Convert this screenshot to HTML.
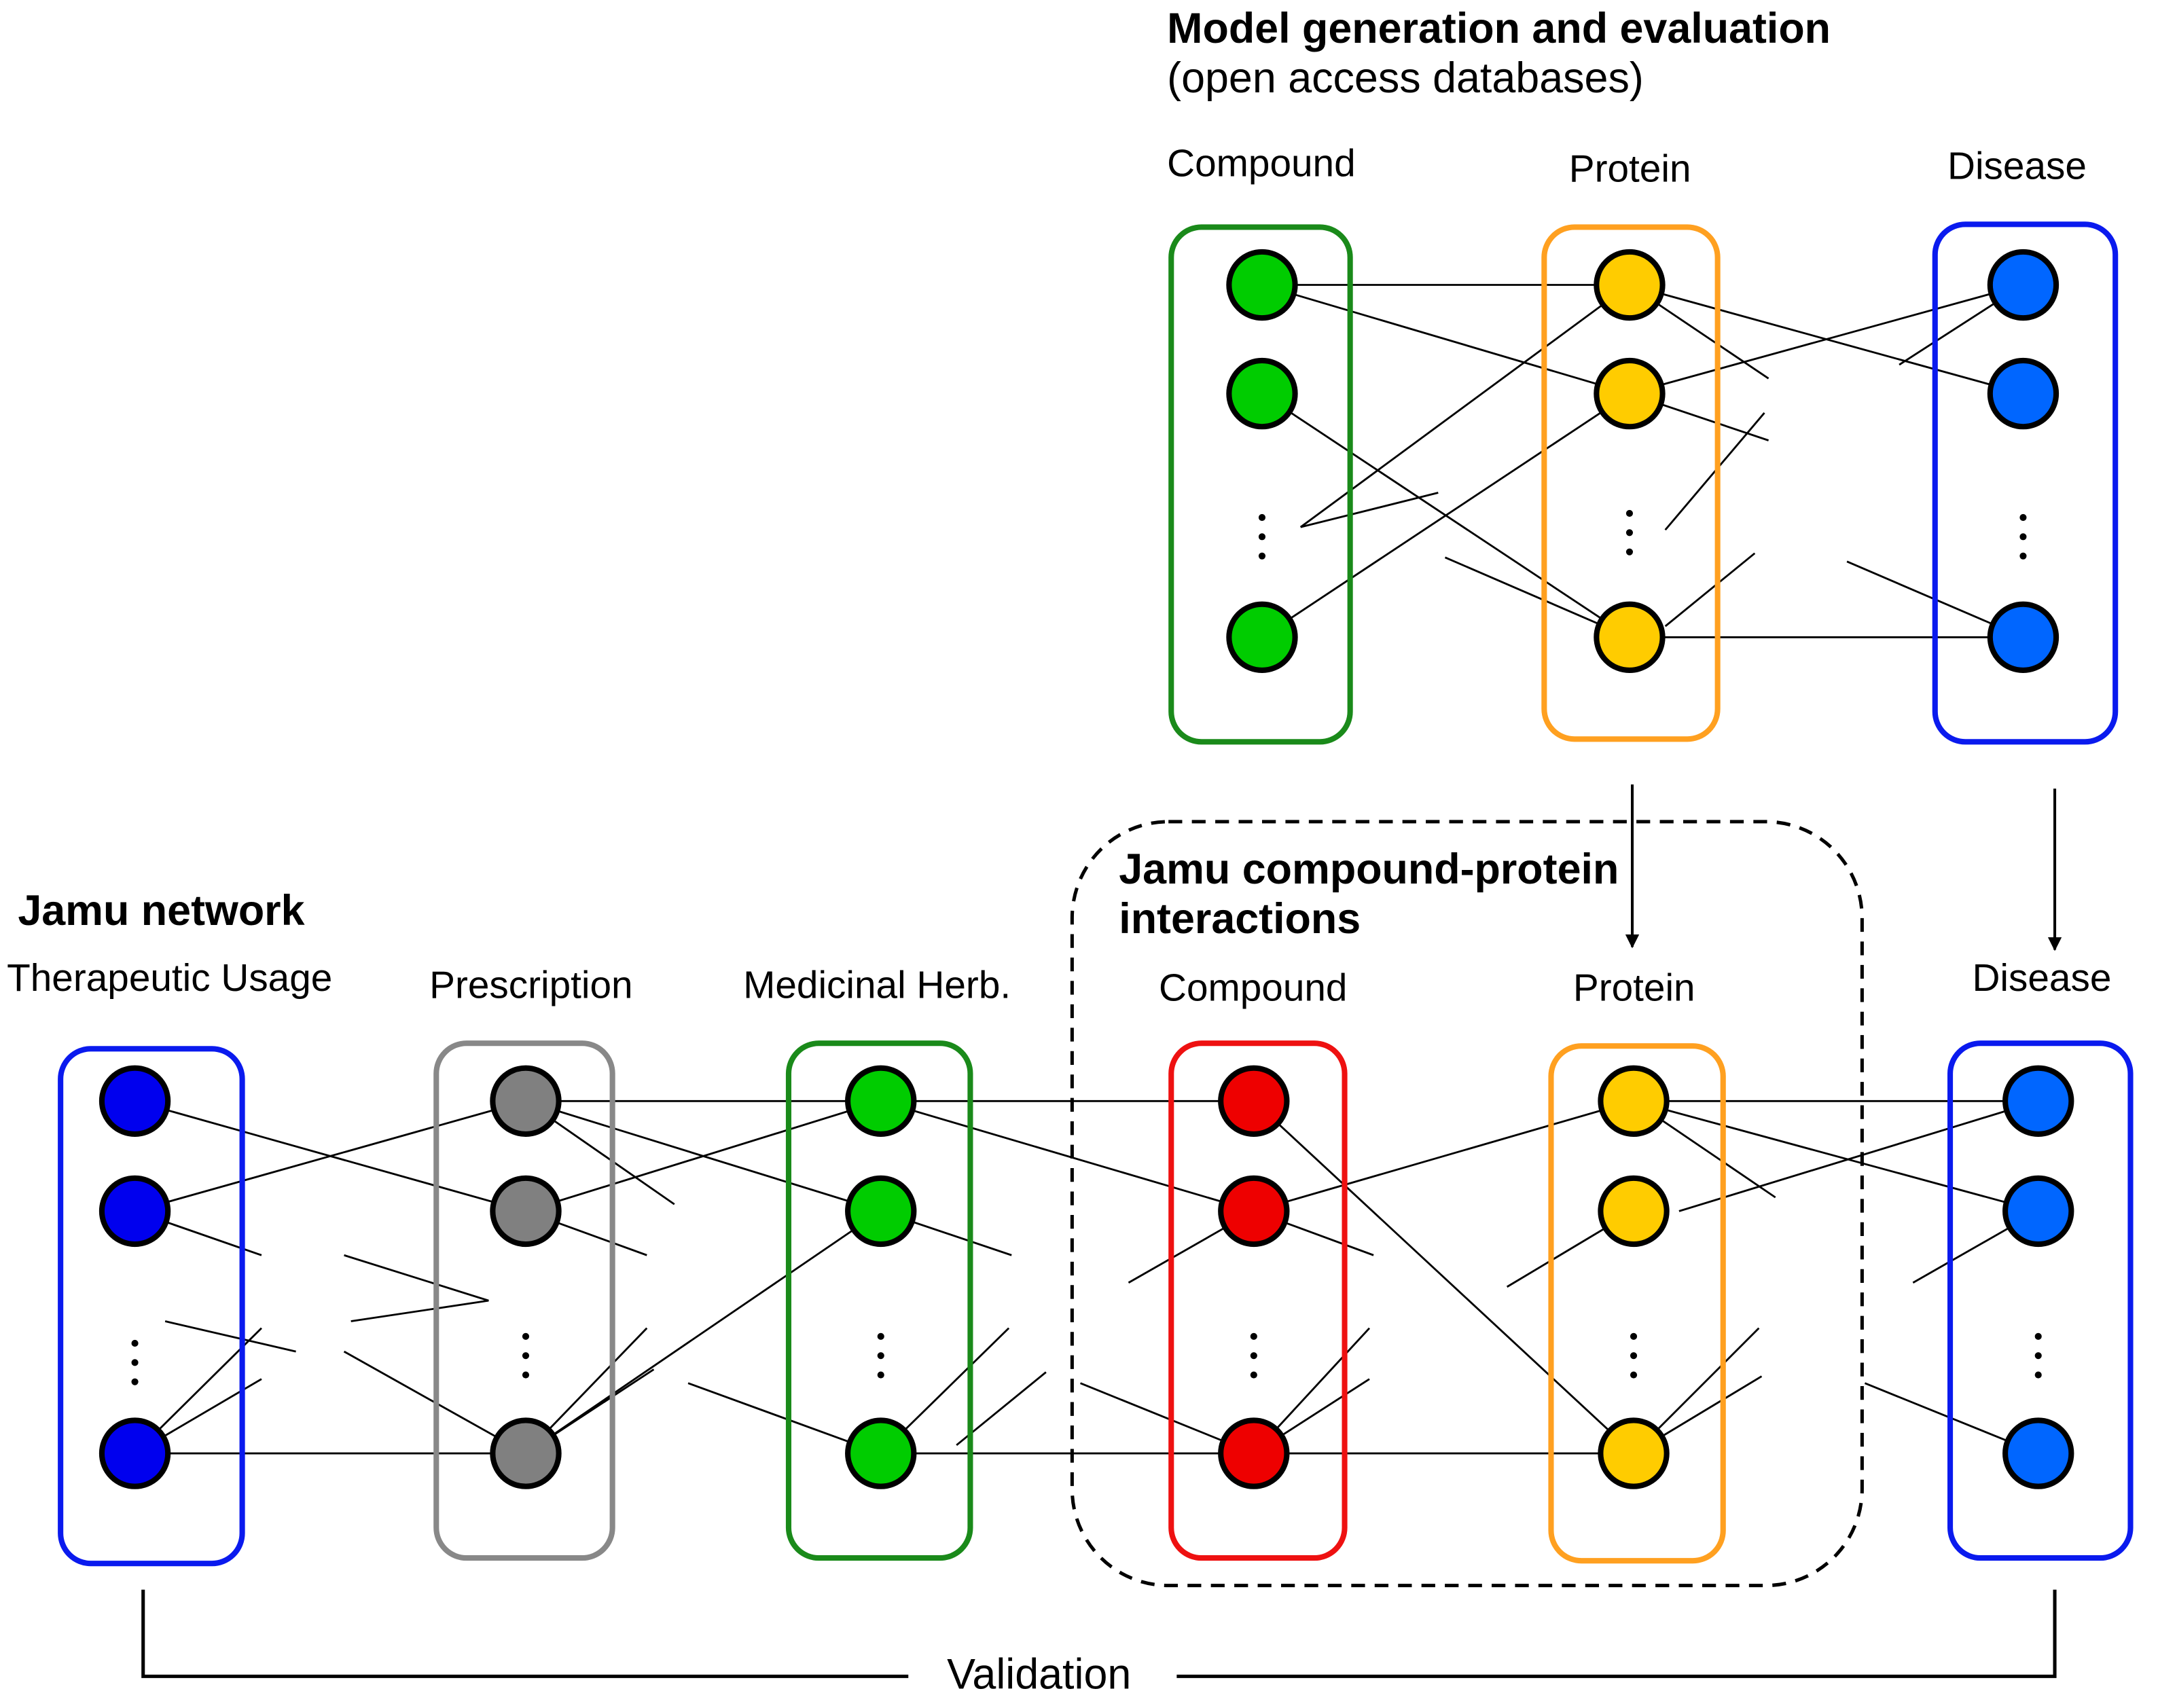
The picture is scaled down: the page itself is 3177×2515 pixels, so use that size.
<!DOCTYPE html>
<html><head><meta charset="utf-8"><style>
html,body{margin:0;padding:0;background:#fff;}
svg{display:block;}
text{font-family:"Liberation Sans",Arial,sans-serif;fill:#000;}
</style></head><body>
<svg width="3177" height="2515" viewBox="0 0 1568 1241" preserveAspectRatio="none" xmlns="http://www.w3.org/2000/svg">
<defs><marker id="ah" markerWidth="10" markerHeight="10" refX="9" refY="5" orient="auto" markerUnits="userSpaceOnUse"><path d="M0,0 L10,5 L0,10 z" fill="#000"/></marker></defs>
<text x="848" y="31" font-size="31" font-weight="bold">Model generation and evaluation</text>
<text x="848" y="67" font-size="31">(open access databases)</text>
<text x="848" y="128" font-size="28">Compound</text>
<text x="1140" y="132" font-size="28">Protein</text>
<text x="1415" y="130" font-size="28">Disease</text>
<g stroke="#000" stroke-width="1.4" fill="none">
<line x1="917" y1="207" x2="1184" y2="207"/><line x1="917" y1="207" x2="1184" y2="286"/>
<line x1="917" y1="286" x2="1184" y2="463"/><line x1="945" y1="383" x2="1184" y2="207"/>
<line x1="945" y1="383" x2="1045" y2="358"/><line x1="917" y1="463" x2="1184" y2="286"/>
<line x1="1050" y1="405" x2="1184" y2="463"/>
<line x1="1184" y1="207" x2="1470" y2="286"/><line x1="1184" y1="207" x2="1285" y2="275"/>
<line x1="1184" y1="286" x2="1470" y2="207"/><line x1="1380" y1="265" x2="1470" y2="207"/>
<line x1="1184" y1="463" x2="1470" y2="463"/><line x1="1210" y1="385" x2="1282" y2="300"/>
<line x1="1210" y1="455" x2="1275" y2="402"/><line x1="1342" y1="408" x2="1470" y2="463"/>
<line x1="1184" y1="286" x2="1285" y2="320"/>
</g>
<g fill="none" stroke-width="4">
<rect x="851" y="165" width="130" height="374" rx="22" stroke="#1a8a1a"/>
<rect x="1122" y="165" width="126" height="372" rx="22" stroke="#ffa020"/>
<rect x="1406" y="163" width="131" height="376" rx="22" stroke="#0a1aee"/>
</g>
<g stroke="#000" stroke-width="4">
<circle cx="917" cy="207" r="24" fill="#00cc00"/><circle cx="917" cy="286" r="24" fill="#00cc00"/><circle cx="917" cy="463" r="24" fill="#00cc00"/>
<circle cx="1184" cy="207" r="24" fill="#ffcc00"/><circle cx="1184" cy="286" r="24" fill="#ffcc00"/><circle cx="1184" cy="463" r="24" fill="#ffcc00"/>
<circle cx="1470" cy="207" r="24" fill="#0066ff"/><circle cx="1470" cy="286" r="24" fill="#0066ff"/><circle cx="1470" cy="463" r="24" fill="#0066ff"/>
</g>
<g fill="#000"><circle cx="917" cy="376" r="2.5"/><circle cx="917" cy="390" r="2.5"/><circle cx="917" cy="404" r="2.5"/>
<circle cx="1184" cy="373" r="2.5"/><circle cx="1184" cy="387" r="2.5"/><circle cx="1184" cy="401" r="2.5"/>
<circle cx="1470" cy="376" r="2.5"/><circle cx="1470" cy="390" r="2.5"/><circle cx="1470" cy="404" r="2.5"/></g>
<g stroke="#000" stroke-width="2"><line x1="1186" y1="570" x2="1186" y2="688" marker-end="url(#ah)"/><line x1="1493" y1="573" x2="1493" y2="690" marker-end="url(#ah)"/></g>
<rect x="779" y="597" width="574" height="555" rx="70" fill="none" stroke="#000" stroke-width="2.5" stroke-dasharray="10,7"/>
<text x="813" y="642" font-size="31" font-weight="bold">Jamu compound-protein</text>
<text x="813" y="678" font-size="31" font-weight="bold">interactions</text>
<text x="13" y="672" font-size="31" font-weight="bold">Jamu network</text>
<text x="5" y="720" font-size="28">Therapeutic Usage</text>
<text x="312" y="725" font-size="28">Prescription</text>
<text x="540" y="725" font-size="28">Medicinal Herb.</text>
<text x="842" y="727" font-size="28">Compound</text>
<text x="1143" y="727" font-size="28">Protein</text>
<text x="1433" y="720" font-size="28">Disease</text>
<g stroke="#000" stroke-width="1.4" fill="none">
<line x1="98" y1="800" x2="382" y2="880"/><line x1="98" y1="880" x2="382" y2="800"/><line x1="98" y1="880" x2="190" y2="912"/>
<polyline points="250,912 355,945 255,960"/><line x1="120" y1="960" x2="215" y2="982"/><line x1="250" y1="982" x2="382" y2="1056"/>
<line x1="98" y1="1056" x2="382" y2="1056"/><line x1="98" y1="1056" x2="190" y2="965"/><line x1="98" y1="1056" x2="190" y2="1002"/>
<line x1="382" y1="800" x2="640" y2="800"/><line x1="382" y1="800" x2="640" y2="880"/><line x1="382" y1="800" x2="490" y2="875"/>
<line x1="382" y1="880" x2="640" y2="800"/><line x1="382" y1="880" x2="470" y2="912"/><line x1="382" y1="1056" x2="640" y2="880"/>
<line x1="382" y1="1056" x2="470" y2="965"/><line x1="382" y1="1056" x2="475" y2="995"/><line x1="500" y1="1005" x2="640" y2="1056"/>
<line x1="640" y1="800" x2="911" y2="800"/><line x1="640" y1="800" x2="911" y2="880"/><line x1="640" y1="880" x2="735" y2="912"/>
<line x1="640" y1="1056" x2="733" y2="965"/><line x1="695" y1="1050" x2="760" y2="997"/><line x1="640" y1="1056" x2="911" y2="1056"/>
<line x1="820" y1="932" x2="911" y2="880"/><line x1="785" y1="1005" x2="911" y2="1056"/>
<line x1="911" y1="880" x2="1187" y2="800"/><line x1="911" y1="880" x2="998" y2="912"/><line x1="911" y1="800" x2="1187" y2="1056"/>
<line x1="911" y1="1056" x2="995" y2="965"/><line x1="911" y1="1056" x2="995" y2="1002"/><line x1="911" y1="1056" x2="1187" y2="1056"/>
<line x1="1095" y1="935" x2="1187" y2="880"/>
<line x1="1187" y1="800" x2="1481" y2="800"/><line x1="1187" y1="800" x2="1481" y2="880"/><line x1="1187" y1="800" x2="1290" y2="870"/>
<line x1="1220" y1="880" x2="1481" y2="800"/><line x1="1187" y1="1056" x2="1278" y2="965"/><line x1="1187" y1="1056" x2="1280" y2="1000"/>
<line x1="1390" y1="932" x2="1481" y2="880"/><line x1="1355" y1="1005" x2="1481" y2="1056"/>
</g>
<g fill="none" stroke-width="4">
<rect x="44" y="762" width="132" height="374" rx="22" stroke="#0a1aee"/>
<rect x="317" y="758" width="128" height="374" rx="22" stroke="#888"/>
<rect x="573" y="758" width="132" height="374" rx="22" stroke="#1a8a1a"/>
<rect x="851" y="758" width="126" height="374" rx="22" stroke="#ee1111"/>
<rect x="1127" y="760" width="125" height="374" rx="22" stroke="#ffa020"/>
<rect x="1417" y="758" width="131" height="374" rx="22" stroke="#0a1aee"/>
</g>
<g stroke="#000" stroke-width="4">
<circle cx="98" cy="800" r="24" fill="#0000ee"/><circle cx="98" cy="880" r="24" fill="#0000ee"/><circle cx="98" cy="1056" r="24" fill="#0000ee"/>
<circle cx="382" cy="800" r="24" fill="#808080"/><circle cx="382" cy="880" r="24" fill="#808080"/><circle cx="382" cy="1056" r="24" fill="#808080"/>
<circle cx="640" cy="800" r="24" fill="#00cc00"/><circle cx="640" cy="880" r="24" fill="#00cc00"/><circle cx="640" cy="1056" r="24" fill="#00cc00"/>
<circle cx="911" cy="800" r="24" fill="#ee0000"/><circle cx="911" cy="880" r="24" fill="#ee0000"/><circle cx="911" cy="1056" r="24" fill="#ee0000"/>
<circle cx="1187" cy="800" r="24" fill="#ffcc00"/><circle cx="1187" cy="880" r="24" fill="#ffcc00"/><circle cx="1187" cy="1056" r="24" fill="#ffcc00"/>
<circle cx="1481" cy="800" r="24" fill="#0066ff"/><circle cx="1481" cy="880" r="24" fill="#0066ff"/><circle cx="1481" cy="1056" r="24" fill="#0066ff"/>
</g>
<g fill="#000">
<circle cx="98" cy="976" r="2.5"/><circle cx="98" cy="990" r="2.5"/><circle cx="98" cy="1004" r="2.5"/>
<circle cx="382" cy="971" r="2.5"/><circle cx="382" cy="985" r="2.5"/><circle cx="382" cy="999" r="2.5"/>
<circle cx="640" cy="971" r="2.5"/><circle cx="640" cy="985" r="2.5"/><circle cx="640" cy="999" r="2.5"/>
<circle cx="911" cy="971" r="2.5"/><circle cx="911" cy="985" r="2.5"/><circle cx="911" cy="999" r="2.5"/>
<circle cx="1187" cy="971" r="2.5"/><circle cx="1187" cy="985" r="2.5"/><circle cx="1187" cy="999" r="2.5"/>
<circle cx="1481" cy="971" r="2.5"/><circle cx="1481" cy="985" r="2.5"/><circle cx="1481" cy="999" r="2.5"/>
</g>
<g stroke="#000" stroke-width="2.5" fill="none">
<polyline points="104,1155 104,1218 660,1218"/><polyline points="855,1218 1493,1218 1493,1155"/>
</g>
<text x="755" y="1227" font-size="31" text-anchor="middle">Validation</text>
</svg>
</body></html>
